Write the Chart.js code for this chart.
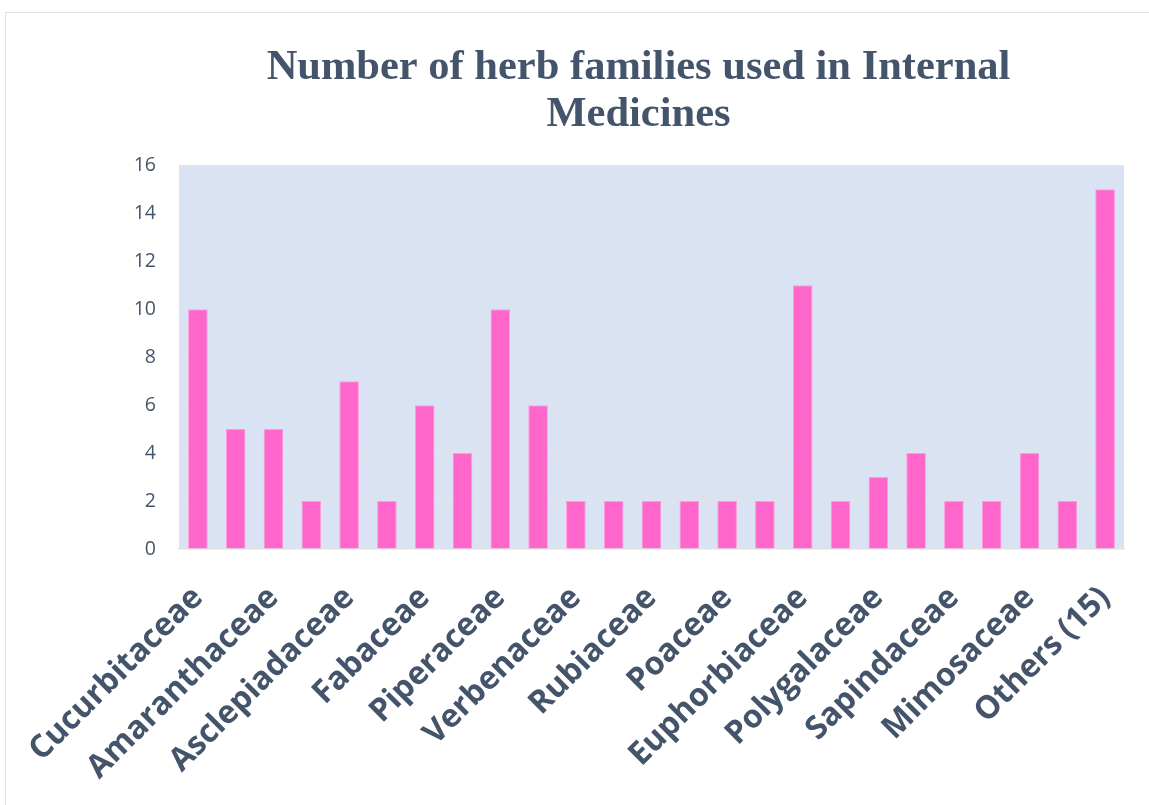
<!DOCTYPE html>
<html>
<head>
<meta charset="utf-8">
<script src="https://cdn.jsdelivr.net/npm/chart.js@4/dist/chart.umd.min.js"></script>
<style>
  html, body { margin: 0; padding: 0; background: #fff; overflow: hidden; }
  #frame {
    position: absolute; left: 5px; top: 12px; width: 1150px; height: 800px;
    border: 1.5px solid #dde2ea; box-sizing: border-box;
  }
  #wrap { position: absolute; left: 0; top: 0; width: 1149px; height: 805px; }
</style>
</head>
<body>
<div id="frame"></div>
<div id="wrap"><canvas id="herbChart"></canvas></div>
<script>
// families with a visible axis label; the unnamed ones sit between them
const families = [
  'Cucurbitaceae', '', 'Amaranthaceae', '', 'Asclepiadaceae', '', 'Fabaceae', '',
  'Piperaceae', '', 'Verbenaceae', '', 'Rubiaceae', '', 'Poaceae', '',
  'Euphorbiaceae', '', 'Polygalaceae', '', 'Sapindaceae', '', 'Mimosaceae', '',
  'Others (15)'
];
const herbCounts = [10, 5, 5, 2, 7, 2, 6, 4, 10, 6, 2, 2, 2, 2, 2, 2, 11, 2, 3, 4, 2, 2, 4, 2, 15];
const yTicks = [0, 2, 4, 6, 8, 10, 12, 14, 16];
const TEXT_COLOR = '#44546a';

// light blue fill behind the plot area
const plotBackground = {
  id: 'plotBackground',
  afterLayout(chart) {
    // nudge the title block a little left of the plot centre
    if (chart.titleBlock) chart.titleBlock.left -= 26;
  },
  beforeDraw(chart) {
    const { ctx, chartArea: a } = chart;
    ctx.save();
    ctx.fillStyle = '#dae3f3';
    ctx.fillRect(a.left, a.top, a.right - a.left, a.bottom - a.top);
    ctx.restore();
  }
};

new Chart(document.getElementById('herbChart'), {
  type: 'bar',
  data: {
    labels: families,
    datasets: [{
      data: herbCounts,
      backgroundColor: '#ff66cc',
      borderColor: '#ff9ad9',
      borderWidth: 1,
      barPercentage: 0.52,
      categoryPercentage: 1
    }]
  },
  options: {
    responsive: true,
    maintainAspectRatio: false,
    animation: false,
    layout: { padding: { left: 20, right: 25, top: 0, bottom: 0 } },
    plugins: {
      legend: { display: false },
      tooltip: { enabled: false },
      title: {
        display: true,
        fullSize: false,
        text: ['Number of herb families used in Internal', 'Medicines'],
        color: TEXT_COLOR,
        font: { family: '"Liberation Serif", "Times New Roman", serif', size: 42.5, weight: 'bold', lineHeight: 1.11 },
        padding: { top: 44, bottom: 27 }
      }
    },
    scales: {
      x: {
        grid: { display: false, drawTicks: false },
        border: { display: true, color: '#e3e3e3', width: 1.5 },
        ticks: {
          autoSkip: false,
          minRotation: 45,
          maxRotation: 45,
          padding: 30,
          color: TEXT_COLOR,
          font: { family: '"Open Sans", sans-serif', size: 32, weight: 'bold' }
        },
        afterFit(scale) {
          // keep the plot full width; the rotated labels may run past it
          scale.height = 256;
          scale.paddingLeft = 0;
          scale.paddingRight = 0;
        }
      },
      y: {
        min: 0,
        max: 16,
        afterBuildTicks(scale) { scale.ticks = yTicks.map(v => ({ value: v })); },
        grid: { color: '#e2e4e8', lineWidth: 1.2, drawTicks: false },
        border: { display: false },
        ticks: {
          padding: 23,
          color: TEXT_COLOR,
          font: { family: '"Open Sans", sans-serif', size: 19.5 }
        },
        afterFit(scale) { scale.width = 159; }
      }
    }
  },
  plugins: [plotBackground]
});
</script>
</body>
</html>
